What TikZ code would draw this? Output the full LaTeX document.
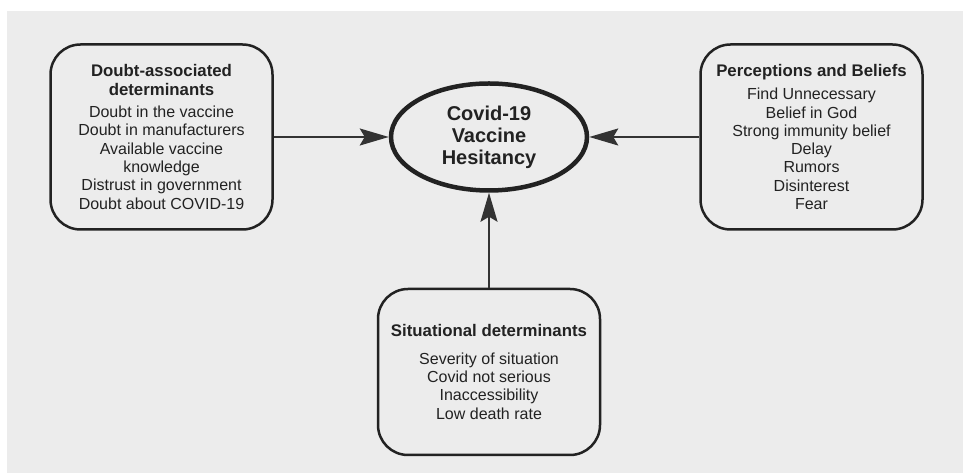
\documentclass[tikz,border=0pt]{standalone}
\usepackage{fontspec}
\setmainfont{Liberation Sans}
\usetikzlibrary{positioning,shapes.geometric,arrows.meta}

\definecolor{panelgray}{HTML}{ECECEC}
\definecolor{inkdark}{HTML}{222222}
\definecolor{arrowdark}{HTML}{333333}

\newcommand{\boxhead}[1]{{\fontsize{16.8}{19}\selectfont\bfseries #1}}

\tikzset{
  factorbox/.style={draw=inkdark, line width=2.5pt, rounded corners=30pt,
    minimum width=222pt, align=center, text=inkdark, inner sep=0pt,
    font=\fontsize{16}{18.3}\selectfont},
  hesitancy/.style={ellipse, draw=inkdark, line width=4.5pt, inner sep=0pt,
    minimum width=196pt, minimum height=107pt, align=center, text=inkdark,
    font=\fontsize{20}{22}\selectfont\bfseries},
  leadsto/.style={draw=arrowdark, line width=2pt,
    -{Stealth[length=29pt,width=17pt,inset=5pt]}}
}

\begin{document}
\begin{tikzpicture}
  \useasboundingbox (0,0) rectangle (963pt,473pt);
  \fill[panelgray] (7pt,0) rectangle (963pt,462pt);

  % centre
  \node[hesitancy] (hes) at (489pt,336pt) {Covid-19\\Vaccine\\Hesitancy};

  % the three groups of determinants
  \node[factorbox, minimum height=185pt, left=115pt of hes] (doubt)
    {\boxhead{Doubt-associated}\\\boxhead{determinants}\\[4pt]
     Doubt in the vaccine\\Doubt in manufacturers\\Available vaccine\\
     knowledge\\Distrust in government\\Doubt about COVID-19};
  \node[factorbox, minimum height=185pt, right=110pt of hes] (beliefs)
    {\boxhead{Perceptions and Beliefs}\\[5pt]
     Find Unnecessary\\Belief in God\\Strong immunity belief\\Delay\\
     Rumors\\Disinterest\\Fear};
  \node[factorbox, minimum height=166pt, below=95pt of hes] (situ)
    {\boxhead{Situational determinants}\\[9pt]
     Severity of situation\\Covid not serious\\Inaccessibility\\
     Low death rate};

  \draw[leadsto] (doubt) -- (hes);
  \draw[leadsto] (beliefs) -- (hes);
  \draw[leadsto] (situ) -- (hes);
\end{tikzpicture}
\end{document}
